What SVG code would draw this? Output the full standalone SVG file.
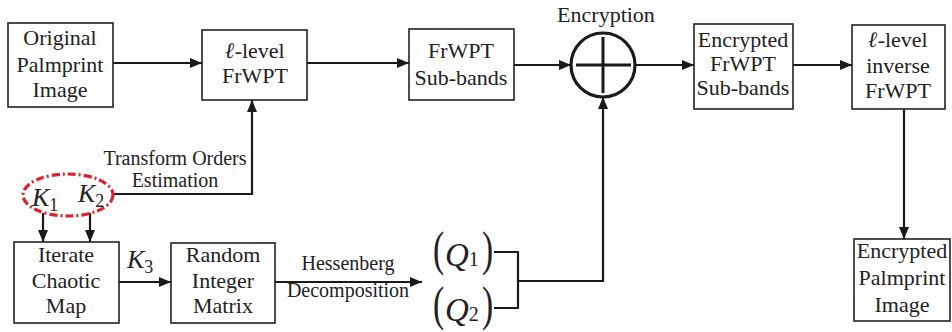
<svg xmlns="http://www.w3.org/2000/svg" width="952" height="332" viewBox="0 0 952 332">
<style>
.box{fill:#fff;stroke:#222;stroke-width:1.6}
.t{font-family:"Liberation Serif","Times New Roman",serif;font-size:22px;fill:#222;text-anchor:middle}
.s{font-family:"Liberation Serif","Times New Roman",serif;font-size:20px;fill:#222;text-anchor:middle}
.m{font-family:"Liberation Serif","Times New Roman",serif;font-style:italic;fill:#222}
.p{font-family:"Liberation Serif","Times New Roman",serif;font-size:48px;fill:#222}
.ell{font-family:"DejaVu Serif",serif;font-style:italic;font-weight:bold}
.ln{fill:none;stroke:#1a1a1a;stroke-width:2.2}
</style>
<defs>
<marker id="ah" viewBox="0 0 12 10" refX="12" refY="5" markerWidth="12" markerHeight="10" markerUnits="userSpaceOnUse" orient="auto">
<path d="M0,0 L12,5 L0,10 Z" fill="#1a1a1a"/>
</marker>
</defs>
<g id="connectors">
<line class="ln" x1="113" y1="63" x2="202" y2="63" marker-end="url(#ah)"/>
<line class="ln" x1="307" y1="63" x2="409" y2="63" marker-end="url(#ah)"/>
<line class="ln" x1="514" y1="65" x2="571" y2="65" marker-end="url(#ah)"/>
<line class="ln" x1="635" y1="65" x2="694" y2="65" marker-end="url(#ah)"/>
<line class="ln" x1="793" y1="65" x2="852" y2="65" marker-end="url(#ah)"/>
<line class="ln" x1="904" y1="109" x2="904" y2="239" marker-end="url(#ah)"/>
<polyline class="ln" points="113,194 252,194 252,100" marker-end="url(#ah)"/>
<line class="ln" x1="43" y1="213" x2="43" y2="242" marker-end="url(#ah)"/>
<line class="ln" x1="90" y1="213" x2="90" y2="242" marker-end="url(#ah)"/>
<line class="ln" x1="119" y1="282" x2="171" y2="282" marker-end="url(#ah)"/>
<line class="ln" x1="275" y1="282" x2="422" y2="282" marker-end="url(#ah)"/>
<polyline class="ln" points="494,252 518,252 518,308 494,308"/>
<polyline class="ln" points="518,281 603,281 603,97" marker-end="url(#ah)"/>
<text class="s" x="175" y="165">Transform Orders</text>
<text class="s" x="175" y="187">Estimation</text>
<text class="s" x="348" y="270" font-size="21">Hessenberg</text>
<text class="s" x="348" y="297" font-size="21">Decomposition</text>
<text class="m" x="127" y="268" font-size="26">K<tspan font-size="18" font-style="normal" dy="5">3</tspan></text>
</g>
<g id="original">
<rect class="box" x="8" y="23" width="105" height="84"/>
<text class="t" x="60" y="45">Original</text>
<text class="t" x="60" y="72">Palmprint</text>
<text class="t" x="60" y="97">Image</text>
</g>
<g id="frwpt">
<rect class="box" x="202" y="30" width="105" height="70"/>
<text class="t" x="255" y="58"><tspan class="ell">ℓ</tspan>-level</text>
<text class="t" x="255" y="83">FrWPT</text>
</g>
<g id="subbands">
<rect class="box" x="409" y="29" width="105" height="71"/>
<text class="t" x="461" y="58">FrWPT</text>
<text class="t" x="461" y="85">Sub-bands</text>
</g>
<g id="encryption">
<circle cx="603" cy="65" r="32" fill="#fff" stroke="#1a1a1a" stroke-width="3.2"/>
<line x1="576" y1="65" x2="631" y2="65" stroke="#1a1a1a" stroke-width="3"/>
<line x1="603" y1="37" x2="603" y2="93" stroke="#1a1a1a" stroke-width="3"/>
<text class="t" x="606" y="22">Encryption</text>
</g>
<g id="enc-subbands">
<rect class="box" x="694" y="24" width="99" height="85"/>
<text class="t" x="743" y="47">Encrypted</text>
<text class="t" x="743" y="71">FrWPT</text>
<text class="t" x="743" y="95">Sub-bands</text>
</g>
<g id="inverse">
<rect class="box" x="852" y="25" width="93" height="84"/>
<text class="t" x="898" y="47"><tspan class="ell">ℓ</tspan>-level</text>
<text class="t" x="898" y="73">inverse</text>
<text class="t" x="898" y="98">FrWPT</text>
</g>
<g id="enc-image">
<rect class="box" x="854" y="239" width="96" height="82"/>
<text class="t" x="902" y="258">Encrypted</text>
<text class="t" x="902" y="285">Palmprint</text>
<text class="t" x="902" y="312">Image</text>
</g>
<g id="keys">
<ellipse cx="68" cy="195" rx="45" ry="21" fill="none" stroke="#e0202a" stroke-width="3.2" stroke-dasharray="8,3,2,3"/>
<text class="m" x="32" y="206" font-size="26">K<tspan font-size="18" font-style="normal" dy="5">1</tspan></text>
<text class="m" x="78" y="202" font-size="26">K<tspan font-size="18" font-style="normal" dy="5">2</tspan></text>
</g>
<g id="iterate">
<rect class="box" x="14" y="242" width="105" height="81"/>
<text class="t" x="66" y="262">Iterate</text>
<text class="t" x="66" y="288">Chaotic</text>
<text class="t" x="66" y="313">Map</text>
</g>
<g id="random">
<rect class="box" x="171" y="243" width="104" height="80"/>
<text class="t" x="223" y="262">Random</text>
<text class="t" x="223" y="288">Integer</text>
<text class="t" x="223" y="313">Matrix</text>
</g>
<g id="q1">
<text class="p" transform="translate(433,265) scale(0.7,1)">(</text>
<text class="m" x="445" y="266" font-size="33">Q<tspan font-size="20" font-style="normal">1</tspan></text>
<text class="p" transform="translate(482,265) scale(0.7,1)">)</text>
</g>
<g id="q2">
<text class="p" transform="translate(433,320) scale(0.7,1)">(</text>
<text class="m" x="445" y="321" font-size="33">Q<tspan font-size="20" font-style="normal">2</tspan></text>
<text class="p" transform="translate(482,320) scale(0.7,1)">)</text>
</g>
</svg>
